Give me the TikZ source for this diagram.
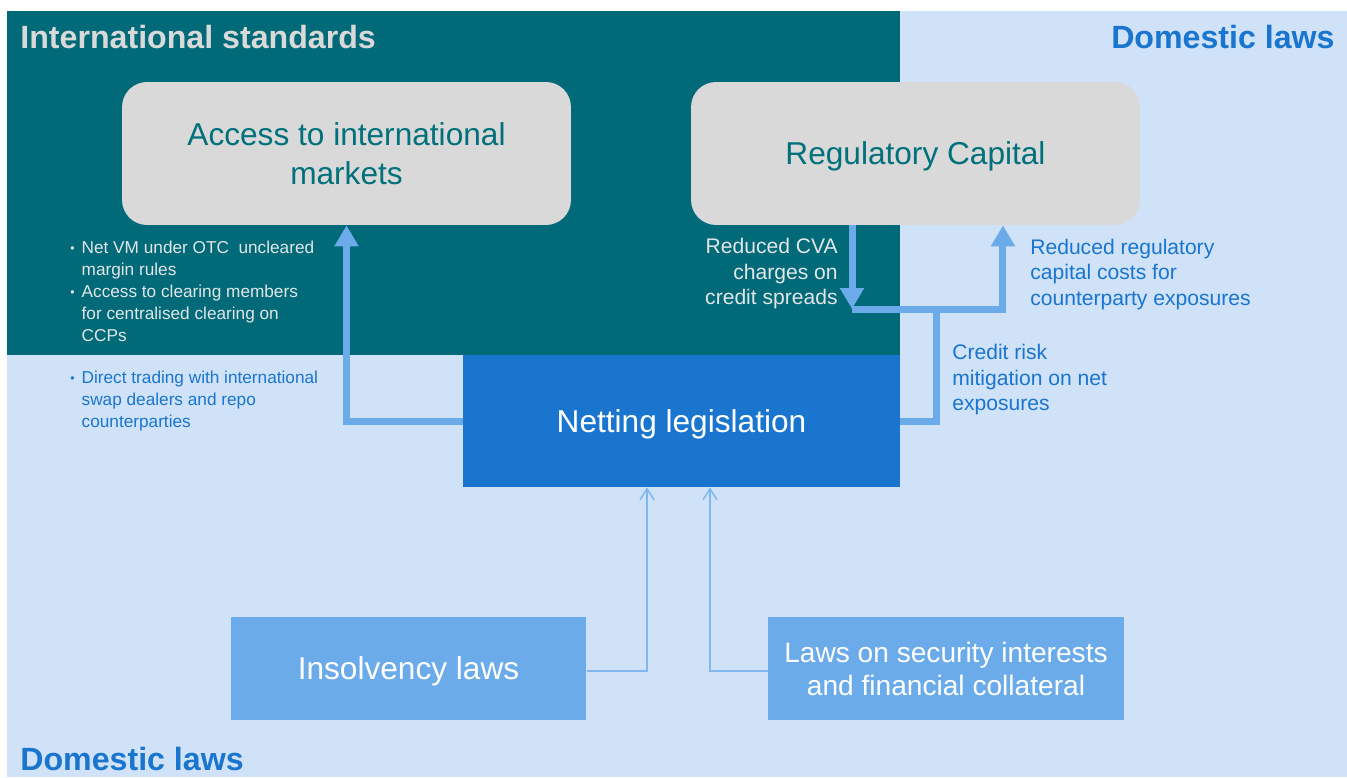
\documentclass[tikz,border=0pt]{standalone}
\usepackage{fontspec}
\setmainfont{Liberation Sans}
\usetikzlibrary{arrows.meta}

\definecolor{tealdark}{HTML}{006A78}
\definecolor{tealtext}{HTML}{00707B}
\definecolor{paleblue}{HTML}{CFE2F8}
\definecolor{goalgray}{HTML}{D9D9D9}
\definecolor{netblue}{HTML}{1A75CF}
\definecolor{lawblue}{HTML}{6BABEA}
\definecolor{feedblue}{HTML}{7FB7EE}
\definecolor{notegray}{HTML}{E2E6E8}

\newcommand{\dotmark}{\raisebox{0.15ex}{\scriptsize\textbullet}}

\begin{document}
\begin{tikzpicture}
    [x=0.02cm,y=-0.02cm,
      every node/.style={inner sep=0pt},
      goal/.style={rectangle,rounded corners=0.5cm,fill=goalgray,text=tealtext,align=center,
        minimum width=8.98cm,minimum height=2.86cm,font=\fontsize{18}{22}\selectfont},
      law/.style={rectangle,fill=lawblue,text=white,align=center,
        minimum width=7.12cm,minimum height=2.08cm,font=\fontsize{16}{19}\selectfont},
      flow/.style={draw=lawblue,line width=0.14cm,-{Triangle[width=0.46cm,length=0.42cm]}},
      flowline/.style={draw=lawblue,line width=0.14cm},
      feed/.style={draw=feedblue,line width=0.03cm,-{Straight Barb[width=0.28cm,length=0.22cm]}},
      heading/.style={font=\fontsize{18.3}{22}\selectfont\bfseries},
      note/.style={font=\fontsize{12}{14.5}\selectfont},
      bullets/.style={font=\fontsize{9.8}{12.5}\selectfont,align=left}
    ]

    \useasboundingbox (0,0) rectangle (1347,778);

    % the two regions
    \fill[paleblue] (7,11) rectangle (1347,777);
    \fill[tealdark] (7,11) rectangle (900,355);

    \node [heading,text=goalgray,anchor=west] (intl) at (20,37) {International standards};
    \node [heading,text=netblue,anchor=east] (domtop) at (1335,37) {Domestic laws};
    \node [heading,text=netblue,anchor=west] (dombottom) at (20,759) {Domestic laws};

    \node [goal] (access) at (346.5,153.5) {Access to international\\markets};
    \node [goal,text depth=0pt] (capital) at (915.5,153.5) {Regulatory Capital};

    \node [rectangle,fill=netblue,text=white,minimum width=8.74cm,minimum height=2.64cm,
      text depth=0pt,font=\fontsize{18}{22}\selectfont] (netting) at (681.5,421) {Netting legislation};

    \node [law,text depth=0pt,font=\fontsize{18}{22}\selectfont] (insolvency) at (408.5,668.5) {Insolvency laws};
    \node [law,text depth=-3.5pt] (collateral) at (946,668.5) {Laws on security interests\\and financial collateral};

    % notes beside the arrows
    \node [bullets,text=notegray,anchor=west] (margin) at (70,293.5) {%
      \begin{tabular}{@{}l@{\hspace{4pt}}l@{}}
        \dotmark & Net VM under OTC\ \ uncleared\\
                 & margin rules\\
        \dotmark & Access to clearing members\\
                 & for centralised clearing on\\
                 & CCPs
      \end{tabular}};
    \node [bullets,text=netblue,anchor=west] (dealers) at (70,401.5) {%
      \begin{tabular}{@{}l@{\hspace{4pt}}l@{}}
        \dotmark & Direct trading with international\\
                 & swap dealers and repo\\
                 & counterparties
      \end{tabular}};
    \node [note,text=notegray,align=right,anchor=east] (cva) at (838,274) {Reduced CVA\\charges on\\credit spreads};
    \node [note,text=netblue,align=left,anchor=west] (capcost) at (1030,274.5) {Reduced regulatory\\capital costs for\\counterparty exposures};
    \node [note,text=netblue,align=left,anchor=west] (mitigation) at (952,380) {Credit risk\\mitigation on net\\exposures};

    % connectors
    \coordinate (split) at (936,309);
    \coordinate (cvatip) at (852,309);

    \draw [flow] (netting.west) -| (access.south);
    \draw [flowline] (netting.east) -| (split);
    \draw [flow] (capital.south -| cvatip) -- (cvatip);
    \draw [flow] (cvatip) -| ([xshift=1.75cm]capital.south);

    \draw [feed] ([yshift=-0.05cm]insolvency.east) -| ([xshift=-0.69cm]netting.south);
    \draw [feed] ([yshift=-0.05cm]collateral.west) -| ([xshift=0.57cm]netting.south);
\end{tikzpicture}
\end{document}
